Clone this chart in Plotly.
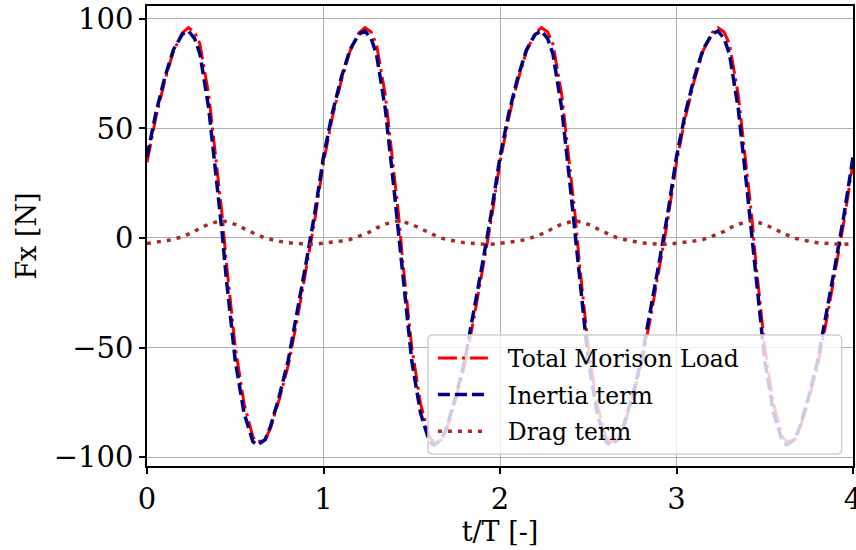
import plotly.graph_objects as go

# t/T sample points (4 periods)
t = [0.0, 0.05, 0.1, 0.15, 0.2, 0.235, 0.27, 0.3, 0.35, 0.4, 0.425, 0.45, 0.5, 0.55, 0.6, 0.625, 0.67, 0.7, 0.75, 0.8, 0.85, 0.9, 0.95,
     1.0, 1.05, 1.1, 1.15, 1.2, 1.235, 1.27, 1.3, 1.35, 1.4, 1.425, 1.45, 1.5, 1.55, 1.6, 1.625, 1.67, 1.7, 1.75, 1.8, 1.85, 1.9, 1.95,
     2.0, 2.05, 2.1, 2.15, 2.2, 2.235, 2.27, 2.3, 2.35, 2.4, 2.425, 2.45, 2.5, 2.55, 2.6, 2.625, 2.67, 2.7, 2.75, 2.8, 2.85, 2.9, 2.95,
     3.0, 3.05, 3.1, 3.15, 3.2, 3.235, 3.27, 3.3, 3.35, 3.4, 3.425, 3.45, 3.5, 3.55, 3.6, 3.625, 3.67, 3.7, 3.75, 3.8, 3.85, 3.9, 3.95,
     4.0]

inertia = [37, 57, 73, 86, 93, 94.5, 91, 84, 59, 22, 3, -19, -56, -80, -93, -94.5, -92, -86, -72, -56, -35, -12, 11,
           37, 57, 73, 86, 93, 94.5, 91, 84, 59, 22, 3, -19, -56, -80, -93, -94.5, -92, -86, -72, -56, -35, -12, 11,
           37, 57, 73, 86, 93, 94.5, 91, 84, 59, 22, 3, -19, -56, -80, -93, -94.5, -92, -86, -72, -56, -35, -12, 11,
           37, 57, 73, 86, 93, 94.5, 91, 84, 59, 22, 3, -19, -56, -80, -93, -94.5, -92, -86, -72, -56, -35, -12, 11,
           37]

drag = [-2.5, -2.0, -1.4, -0.7, 0.6, 1.8, 3.0, 4.5, 6.3, 7.5, 7.9, 7.4, 6.2, 4.3, 2.2, 1.4, -0.1, -0.7, -1.5, -2.2, -2.6, -2.8, -2.9,
        -2.5, -2.0, -1.4, -0.7, 0.6, 1.8, 3.0, 4.5, 6.3, 7.5, 7.9, 7.4, 6.2, 4.3, 2.2, 1.4, -0.1, -0.7, -1.5, -2.2, -2.6, -2.8, -2.9,
        -2.5, -2.0, -1.4, -0.7, 0.6, 1.8, 3.0, 4.5, 6.3, 7.5, 7.9, 7.4, 6.2, 4.3, 2.2, 1.4, -0.1, -0.7, -1.5, -2.2, -2.6, -2.8, -2.9,
        -2.5, -2.0, -1.4, -0.7, 0.6, 1.8, 3.0, 4.5, 6.3, 7.5, 7.9, 7.4, 6.2, 4.3, 2.2, 1.4, -0.1, -0.7, -1.5, -2.2, -2.6, -2.8, -2.9,
        -2.5]

total = [34.5, 55, 71.6, 85.3, 93.6, 96, 94, 88.5, 65.3, 29.5, 10.9, -11.6, -49.8, -75.7, -90.8, -93.1, -92.1, -86.7, -73.5, -58.2, -37.6, -14.8, 8.1,
         34.5, 55, 71.6, 85.3, 93.6, 96, 94, 88.5, 65.3, 29.5, 10.9, -11.6, -49.8, -75.7, -90.8, -93.1, -92.1, -86.7, -73.5, -58.2, -37.6, -14.8, 8.1,
         34.5, 55, 71.6, 85.3, 93.6, 96, 94, 88.5, 65.3, 29.5, 10.9, -11.6, -49.8, -75.7, -90.8, -93.1, -92.1, -86.7, -73.5, -58.2, -37.6, -14.8, 8.1,
         34.5, 55, 71.6, 85.3, 93.6, 96, 94, 88.5, 65.3, 29.5, 10.9, -11.6, -49.8, -75.7, -90.8, -93.1, -92.1, -86.7, -73.5, -58.2, -37.6, -14.8, 8.1,
         34.5]

x_ticks = [0, 1, 2, 3, 4]
y_ticks = [-100, -50, 0, 50, 100]

FONT = "DejaVu Serif"
PAD = "\u00a0\u00a0"

fig = go.Figure()
fig.add_trace(go.Scatter(x=t, y=total, mode="lines", name=PAD + "Total Morison Load", legendgroup="a",
                         line=dict(color="red", width=3, dash="19px,5px,3px,5px")))
fig.add_trace(go.Scatter(x=t, y=inertia, mode="lines", name=PAD + "Inertia term", legendgroup="b",
                         line=dict(color="navy", width=3.5, dash="12px,5px")))
fig.add_trace(go.Scatter(x=t, y=drag, mode="lines", name=PAD + "Drag term", legendgroup="c",
                         line=dict(color="brown", width=3.5, dash="4px,6px")))

axis_common = dict(showgrid=True, gridcolor="#b0b0b0", gridwidth=1.3,
                   showline=True, linecolor="black", linewidth=1.5, mirror=True,
                   ticks="outside", ticklen=6, tickwidth=1.5, tickcolor="black",
                   zeroline=False, automargin=False, ticklabeloverflow="allow",
                   tickfont=dict(family=FONT, size=29, color="black"))

fig.update_xaxes(range=[0, 4], tickvals=x_ticks, ticktext=[str(v) for v in x_ticks],
                 title=dict(text="t/T [-]", font=dict(family=FONT, size=27, color="black"), standoff=4),
                 **axis_common)
fig.update_yaxes(range=[-104.1, 105.9], tickvals=y_ticks,
                 ticktext=[("\u2212" + str(-v)) if v < 0 else str(v) for v in y_ticks],
                 title=dict(text="Fx [N]", font=dict(family=FONT, size=27, color="black"), standoff=9),
                 **axis_common)

# semi-transparent rounded legend frame (paper coordinates)
x0, x1, y0, y1 = 0.398, 0.984, 0.026, 0.285
rx, ry = 5 / 706, 5 / 460
path = (f"M {x0+rx},{y0} L {x1-rx},{y0} Q {x1},{y0} {x1},{y0+ry} "
        f"L {x1},{y1-ry} Q {x1},{y1} {x1-rx},{y1} "
        f"L {x0+rx},{y1} Q {x0},{y1} {x0},{y1-ry} "
        f"L {x0},{y0+ry} Q {x0},{y0} {x0+rx},{y0} Z")
fig.add_shape(type="path", path=path, xref="paper", yref="paper", layer="above",
              fillcolor="rgba(255,255,255,0.8)", line=dict(color="#d0d0d0", width=1.5))

fig.update_layout(
    width=856, height=550,
    margin=dict(l=147, r=3, t=6, b=84, autoexpand=False),
    plot_bgcolor="white", paper_bgcolor="white",
    font=dict(family=FONT, color="black"),
    showlegend=True,
    legend=dict(x=0.405, y=0.282, xanchor="left", yanchor="top",
                bgcolor="rgba(0,0,0,0)", borderwidth=0,
                font=dict(family=FONT, size=23.5, color="black"), itemwidth=50,
                tracegroupgap=3),
)

fig.write_html("out.html", config={"displayModeBar": False},
               post_script="document.body.style.margin='0px';")
